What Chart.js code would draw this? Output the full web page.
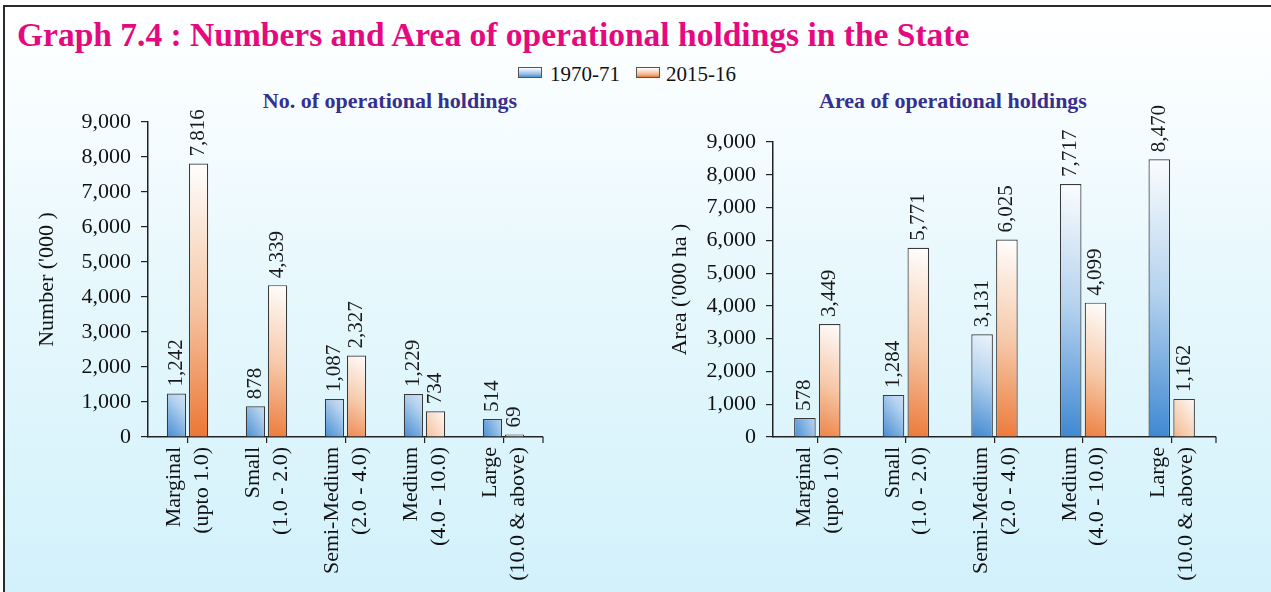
<!DOCTYPE html>
<html>
<head>
<meta charset="utf-8">
<title>Graph 7.4</title>
<script src="https://cdn.jsdelivr.net/npm/chart.js"></script>
<style>
html, body { margin: 0; padding: 0; }
body {
  width: 1271px; height: 592px; overflow: hidden; position: relative;
  background: #fff;
  font-family: "Liberation Serif", "Times New Roman", serif;
}
#frame {
  position: absolute; left: 3px; top: 5px; width: 1280px; height: 600px;
  border-left: 2px solid #2b2b2b; border-top: 2px solid #2b2b2b;
  background: linear-gradient(to bottom, #ffffff 0px, #fbfeff 60px, #e8f8fd 260px, #d2f1fb 590px);
}
#title {
  position: absolute; left: 17px; top: 15px; white-space: nowrap;
  font-size: 33.5px; line-height: 40px; font-weight: bold; color: #e5097f;
}
.legendBox { position: absolute; top: 67px; width: 24px; height: 11px; border: 1px solid #555; box-sizing: border-box; }
.legendText { position: absolute; top: 62px; font-size: 21px; line-height: 24px; color: #111; white-space: nowrap; }
.subTitle {
  position: absolute; top: 88px; width: 400px; text-align: center;
  font-size: 22px; line-height: 26px; font-weight: bold; color: #35308f;
}
.chartWrap { position: absolute; top: 0; height: 592px; }
</style>
</head>
<body>
<div id="frame"></div>
<div id="title">Graph 7.4 : Numbers and Area of operational holdings in the State</div>

<div class="legendBox" style="left:518px;background:linear-gradient(to bottom,#ffffff,#8fbbe6 70%,#4d8fd2);"></div>
<div class="legendText" style="left:550px;">1970-71</div>
<div class="legendBox" style="left:636px;background:linear-gradient(to bottom,#ffffff,#f5b892 70%,#ec7834);"></div>
<div class="legendText" style="left:666px;">2015-16</div>

<div class="subTitle" style="left:190px;">No. of operational holdings</div>
<div class="subTitle" style="left:753px;">Area of operational holdings</div>

<div class="chartWrap" style="left:0px;width:640px;"><canvas id="chartNumber"></canvas></div>
<div class="chartWrap" style="left:640px;width:631px;"><canvas id="chartArea"></canvas></div>

<script>
// data
const categoryLabels = [
  ['Marginal', '(upto 1.0)'],
  ['Small', '(1.0 - 2.0)'],
  ['Semi-Medium', '(2.0 - 4.0)'],
  ['Medium', '(4.0 - 10.0)'],
  ['Large', '(10.0 & above)']
];
const seriesNames = ['1970-71', '2015-16'];
const holdingsNo1970 = [1242, 878, 1087, 1229, 514];
const holdingsNo2015 = [7816, 4339, 2327, 734, 69];
const holdingsArea1970 = [578, 1284, 3131, 7717, 8470];
const holdingsArea2015 = [3449, 5771, 6025, 4099, 1162];
const yAxisMax = 9000;
const yAxisStep = 1000;

Chart.defaults.font.family = '"Liberation Serif", "Times New Roman", serif';
Chart.defaults.color = '#111';

// each bar: white at its own top, colour at the bottom
function barFill(midColor, baseColor) {
  return function (context) {
    if (context.type !== 'data') return baseColor;
    const chart = context.chart;
    const xs = chart.scales.x, ys = chart.scales.y;
    if (!xs || !ys) return baseColor;
    const top = ys.getPixelForValue(context.raw);
    const bottom = ys.getPixelForValue(0);
    const cx = xs.getPixelForValue(context.dataIndex);
    const w = (xs.getPixelForValue(1) - xs.getPixelForValue(0)) * 0.3;
    if (!isFinite(top) || !isFinite(bottom) || !isFinite(cx) || !isFinite(w)) return baseColor;
    const g = chart.ctx.createLinearGradient(cx + w, top, cx - w, bottom);
    g.addColorStop(0, '#ffffff');
    g.addColorStop(0.5, midColor);
    g.addColorStop(1, baseColor);
    return g;
  };
}

// rotated numbers above each bar
const barValueLabels = {
  id: 'barValueLabels',
  afterDatasetsDraw(chart) {
    const ctx = chart.ctx;
    ctx.save();
    ctx.font = '21px "Liberation Serif", "Times New Roman", serif';
    ctx.fillStyle = '#1a1a1a';
    ctx.textAlign = 'left';
    ctx.textBaseline = 'middle';
    chart.data.datasets.forEach((ds, i) => {
      chart.getDatasetMeta(i).data.forEach((bar, j) => {
        ctx.save();
        ctx.translate(bar.x, bar.y - 7);
        ctx.rotate(-Math.PI / 2);
        ctx.fillText(ds.data[j].toLocaleString('en-US'), 0, 0);
        ctx.restore();
      });
    });
    ctx.restore();
  }
};

// closing tick at the right end of the category axis
const axisEndTick = {
  id: 'axisEndTick',
  afterDraw(chart) {
    const xs = chart.scales.x;
    const ctx = chart.ctx;
    ctx.save();
    ctx.strokeStyle = '#222';
    ctx.lineWidth = 1.2;
    ctx.beginPath();
    ctx.moveTo(xs.right, xs.top);
    ctx.lineTo(xs.right, xs.top + 6);
    ctx.stroke();
    ctx.restore();
  }
};

function makeChart(id, data1970, data2015, yTitle, pad, yWidth) {
  return new Chart(document.getElementById(id), {
    type: 'bar',
    data: {
      labels: categoryLabels,
      datasets: [
        {
          label: seriesNames[0],
          data: data1970,
          backgroundColor: barFill('#b3d1ee', '#3d87d1'),
          borderColor: '#3a3a3a',
          borderWidth: 1.2,
          categoryPercentage: 0.56,
          barPercentage: 0.87
        },
        {
          label: seriesNames[1],
          data: data2015,
          backgroundColor: barFill('#f6c8a8', '#ec7330'),
          borderColor: '#3a3a3a',
          borderWidth: 1.2,
          categoryPercentage: 0.56,
          barPercentage: 0.87
        }
      ]
    },
    options: {
      responsive: true,
      maintainAspectRatio: false,
      animation: false,
      layout: { padding: pad },
      plugins: {
        legend: { display: false },
        tooltip: { enabled: false }
      },
      scales: {
        x: {
          offset: true,
          grid: { drawOnChartArea: false, offset: false, tickLength: 6, color: '#222', lineWidth: 1.2 },
          border: { color: '#222', width: 1.5 },
          ticks: {
            autoSkip: false, minRotation: 90, maxRotation: 90,
            padding: 4, labelOffset: -13,
            font: { size: 22, lineHeight: 1.25 }, color: '#111'
          },
          afterFit: s => { s.height = 150; }
        },
        y: {
          min: 0, max: yAxisMax,
          grid: { drawOnChartArea: false, tickLength: 7, color: '#222', lineWidth: 1.2 },
          border: { color: '#222', width: 1.5 },
          ticks: {
            stepSize: yAxisStep, padding: 10,
            font: { size: 22 }, color: '#111',
            callback: v => v.toLocaleString('en-US')
          },
          title: { display: true, text: yTitle, font: { size: 22 }, color: '#111', padding: { top: 0, bottom: 0 } },
          afterFit: s => { s.width = yWidth; }
        }
      }
    },
    plugins: [barValueLabels, axisEndTick]
  });
}

makeChart('chartNumber', holdingsNo1970, holdingsNo2015, "Number ('000 )",
  { left: 34, top: 122, right: 97, bottom: 5 }, 114);
makeChart('chartArea', holdingsArea1970, holdingsArea2015, "Area ('000 ha )",
  { left: 27, top: 142, right: 55, bottom: 5 }, 106);
</script>
</body>
</html>
